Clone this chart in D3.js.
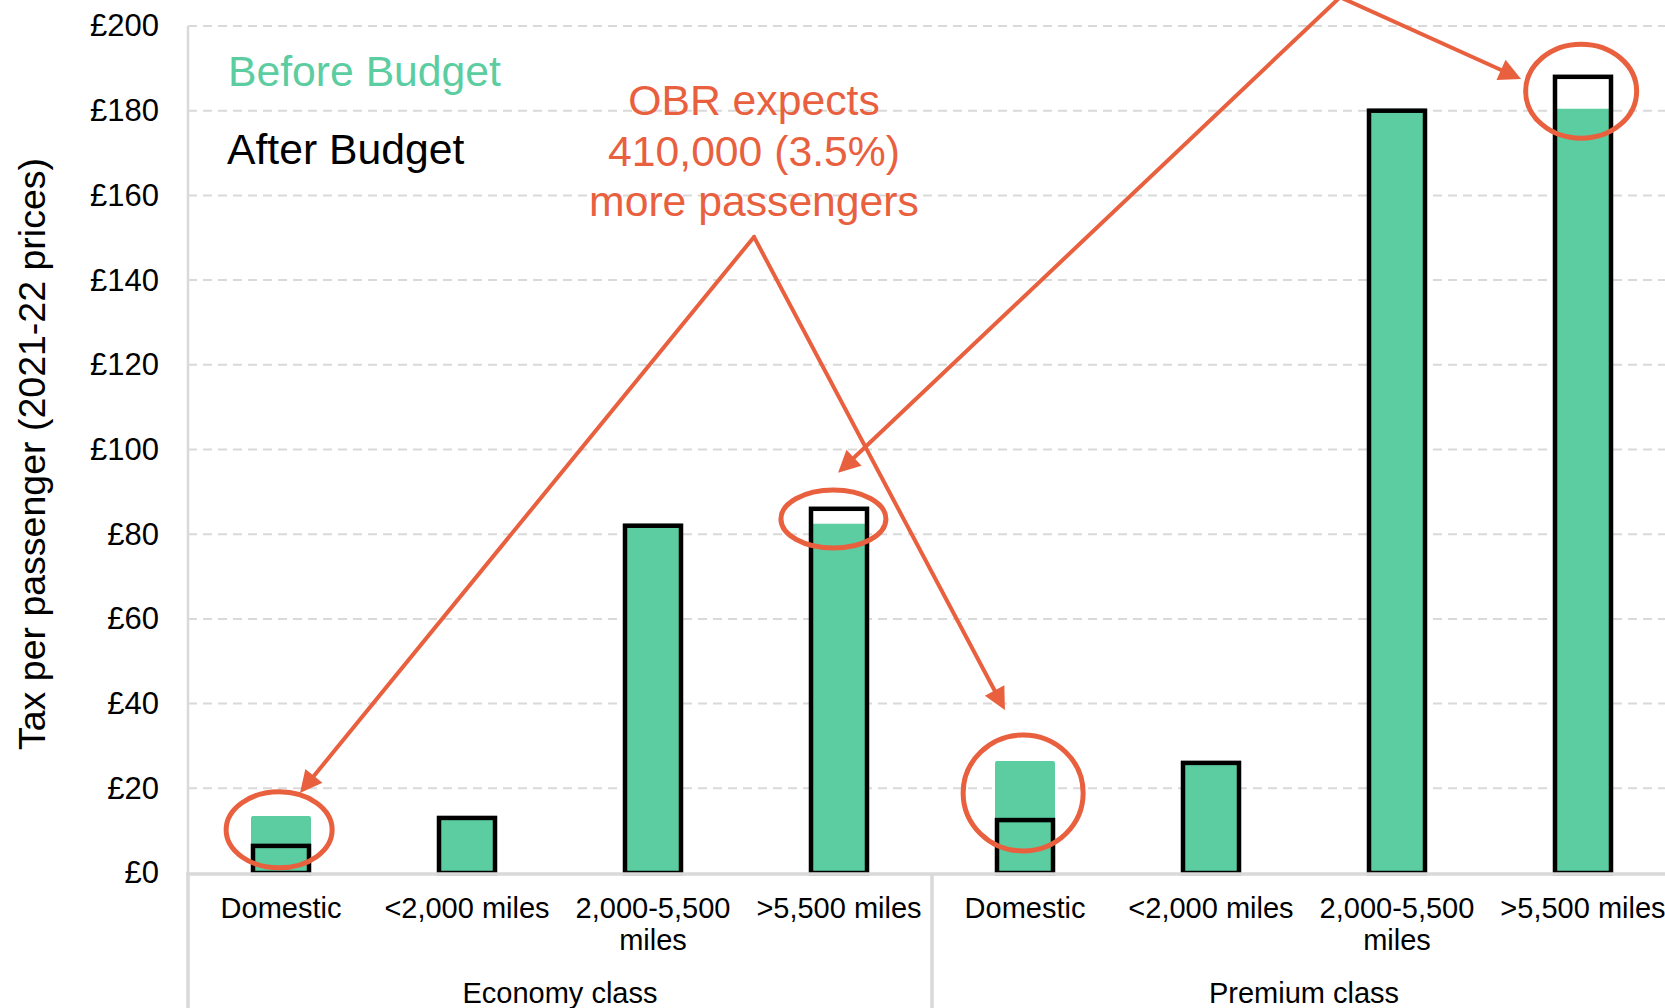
<!DOCTYPE html>
<html>
<head>
<meta charset="utf-8">
<script src="https://cdn.jsdelivr.net/npm/d3@7"></script>
<style>
  html, body { margin: 0; padding: 0; background: #fff; }
  svg { display: block; font-family: "Liberation Sans", Arial, Helvetica, sans-serif; }
</style>
</head>
<body>
<svg id="chart" width="1665" height="1008"></svg>
<script>
// Air passenger duty per passenger, by class and distance band
const groups = ["Economy class", "Premium class"];
const bands = ["Domestic", "<2,000 miles", "2,000-5,500\nmiles", ">5,500 miles"];
const beforeBudget = [13, 13, 82, 82, 26, 26, 180, 180];
const afterBudget = [6.4, 13, 82, 86, 12.5, 26, 180, 188];
const yTicks = [0, 20, 40, 60, 80, 100, 120, 140, 160, 180, 200];
const legendLabels = ["Before Budget", "After Budget"];
const noteLines = ["OBR expects", "410,000 (3.5%)", "more passengers"];
const axisTitle = "Tax per passenger (2021-22 prices)";

const GREEN = "#5bcda1";
const RED = "#e9603f";
const GRID = "#d9d9d9";
const FONT_TEXT = "#000";

const svg = d3.select("#chart");
const W = 1665, H = 1008;

const categories = d3.range(groups.length * bands.length);
const x0 = 188, step = 186;
const x = d3.scaleBand()
  .domain(categories)
  .range([x0, x0 + step * categories.length])
  .paddingInner(0.6989)
  .paddingOuter(0.34946);
const cx = i => x(i) + x.bandwidth() / 2;
// fractional category position, for annotation geometry
const fx = t => x0 + step * (t + 0.5);

const y = d3.scaleLinear().domain([0, 200]).range([873, 26]);

// dashed gridlines
svg.append("g").selectAll("line")
  .data(yTicks.filter(d => d > 0))
  .join("line")
  .attr("x1", x0).attr("x2", W)
  .attr("y1", d => y(d)).attr("y2", d => y(d))
  .attr("stroke", GRID).attr("stroke-width", 2)
  .attr("stroke-dasharray", "9,6");

// value axis
const yAxis = svg.append("g")
  .attr("transform", `translate(${x0},0)`)
  .call(d3.axisLeft(y).tickValues(yTicks).tickSize(0).tickPadding(29).tickFormat(d => "£" + d));
yAxis.select(".domain").remove();
yAxis.selectAll("text")
  .attr("font-size", 31)
  .attr("font-family", "'Liberation Sans', Arial, sans-serif")
  .attr("fill", FONT_TEXT);

// vertical axis line
svg.append("line")
  .attr("x1", x0).attr("x2", x0).attr("y1", y(200)).attr("y2", H)
  .attr("stroke", GRID).attr("stroke-width", 2.5);

// before-budget bars
svg.append("g").selectAll("rect")
  .data(categories)
  .join("rect")
  .attr("x", i => x(i))
  .attr("width", x.bandwidth())
  .attr("y", i => y(beforeBudget[i]))
  .attr("height", i => y(0) - y(beforeBudget[i]))
  .attr("fill", GREEN)
  .attr("stroke", GREEN)
  .attr("stroke-width", 4)
  .attr("stroke-linejoin", "round");

// after-budget outlines
svg.append("g").selectAll("rect")
  .data(categories)
  .join("rect")
  .attr("x", i => x(i))
  .attr("width", x.bandwidth())
  .attr("y", i => y(afterBudget[i]))
  .attr("height", i => y(0) - y(afterBudget[i]))
  .attr("fill", "none")
  .attr("stroke", "#000")
  .attr("stroke-width", 4.5);

// category axis: baseline and group dividers
svg.append("line")
  .attr("x1", x0 - 2).attr("x2", W).attr("y1", y(0) + 1).attr("y2", y(0) + 1)
  .attr("stroke", GRID).attr("stroke-width", 3.5);
[0, 1].forEach(g => {
  const gx = x0 + step * bands.length * g;
  svg.append("line")
    .attr("x1", gx).attr("x2", gx).attr("y1", y(0)).attr("y2", H)
    .attr("stroke", GRID).attr("stroke-width", 3.5);
});

// distance band labels
const catLabels = svg.append("g")
  .attr("font-size", 29).attr("fill", FONT_TEXT).attr("text-anchor", "middle");
categories.forEach(i => {
  const lines = bands[i % bands.length].split("\n");
  const t = catLabels.append("text").attr("x", cx(i)).attr("y", 918);
  lines.forEach((l, k) => {
    t.append("tspan").attr("x", cx(i)).attr("dy", k === 0 ? 0 : 32).text(l);
  });
});

// class labels
svg.append("g").selectAll("text")
  .data(groups)
  .join("text")
  .attr("x", (d, g) => x0 + step * bands.length * (g + 0.5))
  .attr("y", 1003)
  .attr("text-anchor", "middle")
  .attr("font-size", 29)
  .attr("fill", FONT_TEXT)
  .text(d => d);

// axis title
svg.append("text")
  .attr("transform", "translate(45,454) rotate(-90)")
  .attr("text-anchor", "middle")
  .attr("font-size", 37.5)
  .attr("fill", FONT_TEXT)
  .text(axisTitle);

// legend
svg.append("text").attr("x", 228).attr("y", 86)
  .attr("font-size", 42.7).attr("fill", GREEN).text(legendLabels[0]);
svg.append("text").attr("x", 227).attr("y", 164)
  .attr("font-size", 42.7).attr("fill", "#000").text(legendLabels[1]);

// highlight rings around the changed bars
const rings = [
  { t: -0.01, v: 10.2, rx: 53, ry: 38 },
  { t: 2.97, v: 83.6, rx: 52.5, ry: 29 },
  { t: 3.99, v: 18.9, rx: 60, ry: 58 },
  { t: 6.99, v: 184.6, rx: 55.5, ry: 47 }
];
svg.append("g").selectAll("ellipse")
  .data(rings)
  .join("ellipse")
  .attr("cx", d => fx(d.t)).attr("cy", d => y(d.v))
  .attr("rx", d => d.rx).attr("ry", d => d.ry)
  .attr("fill", "none").attr("stroke", RED).attr("stroke-width", 5);

// callout arrows
function arrow(a, b) {
  const ax = fx(a.t), ay = y(a.v), bx = fx(b.t), by = y(b.v);
  const dx = bx - ax, dy = by - ay, len = Math.hypot(dx, dy);
  const ux = dx / len, uy = dy / len;
  const head = 22, half = 11;
  const baseX = bx - ux * head, baseY = by - uy * head;
  svg.append("line")
    .attr("x1", ax).attr("y1", ay).attr("x2", baseX + ux * 2).attr("y2", baseY + uy * 2)
    .attr("stroke", RED).attr("stroke-width", 4).attr("stroke-linecap", "round");
  svg.append("path")
    .attr("d", `M${bx},${by}L${baseX - uy * half},${baseY + ux * half}L${baseX + uy * half},${baseY - ux * half}Z`)
    .attr("fill", RED);
}
const apex1 = { t: 2.543, v: 150.2 };
arrow(apex1, { t: 0.102, v: 18.9 });
arrow(apex1, { t: 3.892, v: 38.5 });
const apex2 = { t: 5.694, v: 206.8 };
arrow(apex2, { t: 2.995, v: 94.5 });
arrow(apex2, { t: 6.667, v: 187.5 });

// callout text
svg.append("g").selectAll("text")
  .data(noteLines)
  .join("text")
  .attr("x", 754)
  .attr("y", (d, k) => 115 + k * 50.5)
  .attr("text-anchor", "middle")
  .attr("font-size", 42.7)
  .attr("fill", RED)
  .text(d => d);
</script>
</body>
</html>
